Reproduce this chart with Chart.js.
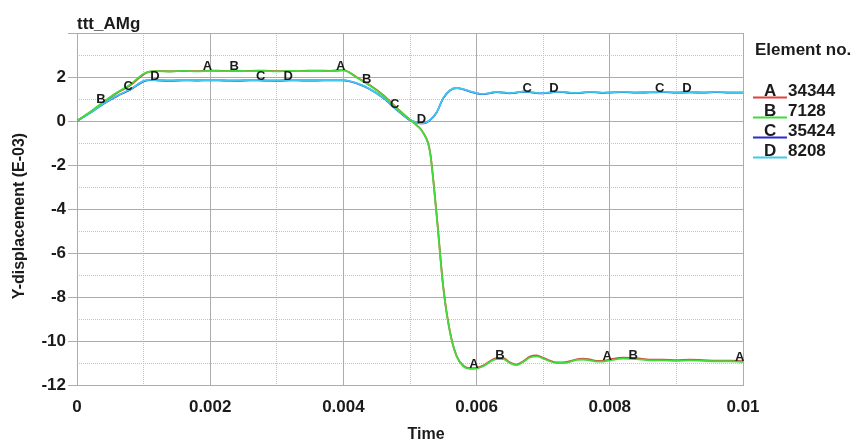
<!DOCTYPE html>
<html>
<head>
<meta charset="utf-8">
<script src="https://cdn.jsdelivr.net/npm/chart.js@4.4.0/dist/chart.umd.min.js"></script>
<style>
html,body{margin:0;padding:0;background:#fff;}
#wrap{width:857px;height:441px;}
</style>
</head>
<body>
<div id="wrap"><canvas id="c" width="857" height="441"></canvas></div>
<script>
// ---- data ----
const chartTitle = 'ttt_AMg';
const xTitle = 'Time';
const yTitle = 'Y-displacement (E-03)';
const legendTitle = 'Element no.';
const seriesLetters = ['A', 'B', 'C', 'D'];
const seriesNames = ['34344', '7128', '35424', '8208'];

const time = [
  0, 0.0002, 0.0004, 0.0006, 0.0008, 0.001, 0.0011, 0.0012, 0.0014, 0.0016, 0.0018,
  0.002, 0.0022, 0.0024, 0.0026, 0.0028, 0.003, 0.0032, 0.0034, 0.0036, 0.0038, 0.004,
  0.0042, 0.0044, 0.0046, 0.0048, 0.005, 0.0051, 0.0052, 0.0053, 0.0054, 0.0055, 0.0056,
  0.0057, 0.0058, 0.0059, 0.006, 0.0061, 0.0062, 0.0063, 0.0064, 0.0065, 0.0066, 0.0067,
  0.0068, 0.0069, 0.007, 0.0071, 0.0072, 0.0073, 0.0074, 0.0075, 0.0076, 0.0077, 0.0078,
  0.0079, 0.008, 0.0082, 0.0084, 0.0086, 0.0088, 0.009, 0.0092, 0.0094, 0.0096, 0.0098, 0.01
];

const valuesA = [
  0, 0.40, 0.85, 1.27, 1.62, 2.12, 2.24, 2.27, 2.26, 2.27, 2.27,
  2.29, 2.28, 2.28, 2.28, 2.29, 2.27, 2.27, 2.28, 2.29, 2.28, 2.31,
  1.99, 1.62, 1.17, 0.60, 0.06, -0.19, -0.54, -1.38, -4.25, -7.55, -9.58,
  -10.68, -11.12, -11.24, -11.22, -11.12, -10.92, -10.78, -10.78, -10.97, -11.07, -10.92,
  -10.71, -10.66, -10.76, -10.89, -10.97, -10.97, -10.92, -10.83, -10.80, -10.84, -10.90,
  -10.90, -10.84, -10.76, -10.78, -10.85, -10.85, -10.87, -10.85, -10.87, -10.89, -10.89, -10.92
];
const valuesB = [
  0, 0.42, 0.88, 1.30, 1.66, 2.15, 2.25, 2.27, 2.25, 2.28, 2.26,
  2.28, 2.27, 2.29, 2.27, 2.28, 2.26, 2.28, 2.27, 2.28, 2.27, 2.30,
  1.98, 1.60, 1.15, 0.58, 0.05, -0.20, -0.55, -1.40, -4.30, -7.60, -9.60,
  -10.70, -11.15, -11.27, -11.25, -11.15, -10.95, -10.82, -10.82, -11.00, -11.10, -10.95,
  -10.75, -10.70, -10.80, -10.92, -11.00, -11.00, -10.95, -10.86, -10.84, -10.88, -10.94,
  -10.94, -10.88, -10.80, -10.82, -10.88, -10.88, -10.90, -10.88, -10.90, -10.92, -10.92, -10.95
];
const valuesC = [
  0, 0.37, 0.79, 1.13, 1.42, 1.80, 1.86, 1.85, 1.83, 1.85, 1.84,
  1.85, 1.84, 1.83, 1.85, 1.84, 1.83, 1.85, 1.84, 1.84, 1.85, 1.85,
  1.71, 1.44, 1.04, 0.51, 0.04, -0.07, -0.11, 0.04, 0.39, 1.04, 1.39,
  1.49, 1.44, 1.34, 1.26, 1.22, 1.27, 1.31, 1.29, 1.26, 1.29, 1.33,
  1.31, 1.27, 1.26, 1.29, 1.32, 1.31, 1.28, 1.27, 1.29, 1.31, 1.30,
  1.28, 1.29, 1.31, 1.29, 1.30, 1.31, 1.29, 1.30, 1.29, 1.31, 1.29, 1.29
];
const valuesD = [
  0, 0.38, 0.80, 1.15, 1.44, 1.82, 1.87, 1.86, 1.84, 1.86, 1.85,
  1.86, 1.85, 1.84, 1.86, 1.85, 1.84, 1.86, 1.85, 1.85, 1.86, 1.86,
  1.72, 1.45, 1.05, 0.52, 0.05, -0.06, -0.10, 0.05, 0.40, 1.05, 1.40,
  1.50, 1.45, 1.35, 1.27, 1.23, 1.28, 1.32, 1.30, 1.27, 1.30, 1.34,
  1.32, 1.28, 1.27, 1.30, 1.33, 1.32, 1.29, 1.28, 1.30, 1.32, 1.31,
  1.29, 1.30, 1.32, 1.30, 1.31, 1.32, 1.30, 1.31, 1.30, 1.32, 1.30, 1.30
];

// times at which the curve letters are printed
const labelTimesA = [0.00196, 0.00396, 0.00596, 0.00796, 0.00995];
const labelTimesB = [0.00036, 0.00236, 0.00435, 0.00635, 0.00835];
const labelTimesC = [0.00077, 0.00276, 0.00477, 0.00676, 0.00875];
const labelTimesD = [0.00117, 0.00317, 0.00517, 0.00716, 0.00916];

const xTicks = [0, 0.002, 0.004, 0.006, 0.008, 0.01];
const xTickLabels = ['0', '0.002', '0.004', '0.006', '0.008', '0.01'];
const xMinorTicks = [0.001, 0.003, 0.005, 0.007, 0.009];
const yTicks = [-12, -10, -8, -6, -4, -2, 0, 2, 4];
const yTickLabels = ['-12', '-10', '-8', '-6', '-4', '-2', '0', '2', ''];
const yMinorTicks = [-11, -9, -7, -5, -3, -1, 1, 3];

// ---- styles ----
const colors = ['#e2413c', '#3fdc3a', '#2a2ad2', '#3fc9ec'];
const FONT = '"Liberation Sans", Arial, Helvetica, sans-serif';
const seriesValues = [valuesA, valuesB, valuesC, valuesD];
const seriesLabelTimes = [labelTimesA, labelTimesB, labelTimesC, labelTimesD];
const drawOrder = [3, 1, 4, 2];

function interp(t, vals) {
  for (let i = 0; i < time.length - 1; i++) {
    if (t >= time[i] && t <= time[i + 1]) {
      const f = (t - time[i]) / (time[i + 1] - time[i]);
      return vals[i] + f * (vals[i + 1] - vals[i]);
    }
  }
  return vals[vals.length - 1];
}

const datasets = seriesValues.map((vals, k) => ({
  label: seriesLetters[k] + ' ' + seriesNames[k],
  data: time.map((t, i) => ({ x: t, y: vals[i] })),
  borderColor: colors[k],
  backgroundColor: colors[k],
  borderWidth: 1.8,
  pointRadius: 0,
  cubicInterpolationMode: 'monotone',
  fill: false,
  order: drawOrder[k],
  xAxisID: 'x',
  yAxisID: 'y'
}));

const overlay = {
  id: 'overlay',
  afterDatasetsDraw(chart) {
    const ctx = chart.ctx, xs = chart.scales.x, ys = chart.scales.y;
    ctx.save();
    ctx.font = 'bold 13px ' + FONT;
    ctx.fillStyle = '#1b1b1b';
    ctx.textAlign = 'center';
    ctx.textBaseline = 'middle';
    seriesLabelTimes.forEach((times, k) => {
      times.forEach(t => {
        const v = interp(t, seriesValues[k]);
        ctx.fillText(seriesLetters[k], xs.getPixelForValue(t), ys.getPixelForValue(v) - 4);
      });
    });
    ctx.restore();
  },
  afterDraw(chart) {
    const ctx = chart.ctx, area = chart.chartArea;
    ctx.save();
    ctx.fillStyle = '#1b1b1b';
    // title
    ctx.font = 'bold 17px ' + FONT;
    ctx.textAlign = 'left';
    ctx.textBaseline = 'alphabetic';
    ctx.fillText(chartTitle, area.left, 29);
    // x title
    ctx.font = 'bold 16px ' + FONT;
    ctx.textAlign = 'center';
    ctx.fillText(xTitle, 426, 439);
    // y title
    ctx.save();
    ctx.translate(24, 216);
    ctx.rotate(-Math.PI / 2);
    ctx.textAlign = 'center';
    ctx.textBaseline = 'alphabetic';
    ctx.fillText(yTitle, 0, 0);
    ctx.restore();
    // legend
    ctx.font = 'bold 17px ' + FONT;
    ctx.textAlign = 'left';
    ctx.fillText(legendTitle, 755, 55);
    seriesLetters.forEach((L, k) => {
      const yb = 96 + k * 20;
      ctx.strokeStyle = colors[k];
      ctx.lineWidth = 2;
      ctx.beginPath();
      ctx.moveTo(753, yb + 1.5);
      ctx.lineTo(787, yb + 1.5);
      ctx.stroke();
      ctx.fillStyle = '#1b1b1b';
      ctx.fillText(L, 764, yb);
      ctx.fillText(seriesNames[k], 788, yb);
    });
    ctx.restore();
  }
};

const majorGrid = '#acacac';
const minorGrid = '#c2c2c2';

new Chart(document.getElementById('c'), {
  type: 'line',
  data: { datasets },
  options: {
    responsive: false,
    animation: false,
    devicePixelRatio: 1,
    layout: { padding: { left: 0, top: 33, right: 114, bottom: 0 } },
    plugins: { legend: { display: false }, tooltip: { enabled: false }, title: { display: false } },
    scales: {
      xMinor: {
        type: 'linear', position: 'bottom', min: 0, max: 0.01,
        afterBuildTicks: s => { s.ticks = xMinorTicks.map(v => ({ value: v })); },
        afterFit: s => { s.height = 0; },
        ticks: { display: false },
        grid: { color: minorGrid, lineWidth: 1, drawTicks: false },
        border: { display: false, dash: [1, 1] }
      },
      yMinor: {
        type: 'linear', position: 'left', min: -12, max: 4,
        afterBuildTicks: s => { s.ticks = yMinorTicks.map(v => ({ value: v })); },
        afterFit: s => { s.width = 0; },
        ticks: { display: false },
        grid: { color: minorGrid, lineWidth: 1, drawTicks: false },
        border: { display: false, dash: [1, 1] }
      },
      x: {
        type: 'linear', position: 'bottom', min: 0, max: 0.01,
        afterBuildTicks: s => { s.ticks = xTicks.map(v => ({ value: v })); },
        afterFit: s => { s.height = 56; },
        ticks: {
          callback: (v, i) => xTickLabels[i],
          font: { family: FONT, size: 17, weight: 'bold' },
          color: '#1b1b1b', padding: 12, maxRotation: 0, autoSkip: false
        },
        grid: { color: majorGrid, lineWidth: 1, drawTicks: false },
        border: { display: true, color: majorGrid }
      },
      y: {
        type: 'linear', position: 'left', min: -12, max: 4,
        afterBuildTicks: s => { s.ticks = yTicks.map(v => ({ value: v })); },
        afterFit: s => { s.width = 77; },
        ticks: {
          callback: (v, i) => yTickLabels[i],
          font: { family: FONT, size: 17, weight: 'bold' },
          color: '#1b1b1b', padding: 2, autoSkip: false
        },
        grid: { color: majorGrid, lineWidth: 1, drawTicks: true, tickLength: 9, tickColor: majorGrid },
        border: { display: true, color: majorGrid }
      }
    }
  },
  plugins: [overlay]
});
</script>
</body>
</html>
